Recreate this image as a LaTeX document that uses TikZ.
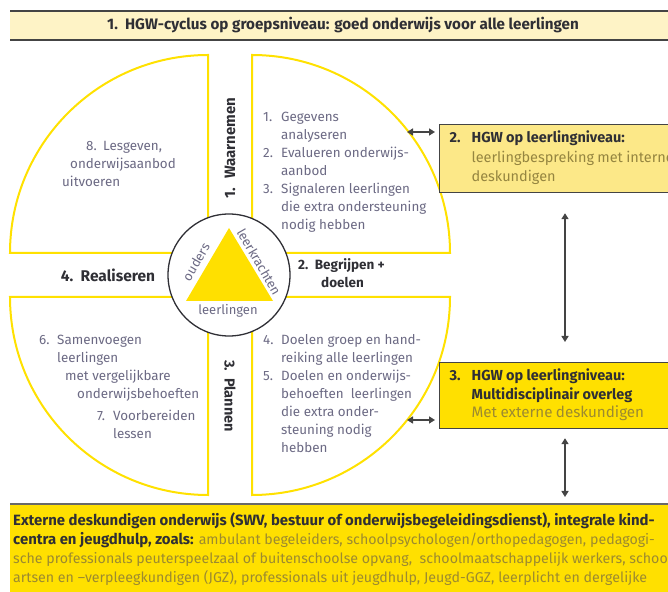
\documentclass[tikz,border=0pt]{standalone}
\usepackage{fontspec}
\setmainfont{Fira Sans}
\usetikzlibrary{arrows.meta}
\definecolor{qyellow}{HTML}{FFE100}
\definecolor{byellow}{HTML}{FFE000}
\definecolor{lyellow}{HTML}{FCE888}
\definecolor{cream}{HTML}{FEF3C6}
\definecolor{qgray}{HTML}{6C6A84}
\definecolor{dark}{HTML}{2F2F35}
\definecolor{rule}{HTML}{444444}
\definecolor{olive}{HTML}{958540}
\definecolor{olivey}{HTML}{9C8A30}
\begin{document}
\begin{tikzpicture}[x=1pt,y=1pt,
  quad/.style={draw=qyellow, line width=2pt, fill=white},
  qtext/.style={text=qgray, inner sep=0, anchor=base west, font=\fontsize{13.4}{18}\selectfont},
  lab/.style={text=dark, inner sep=0, font=\bfseries\fontsize{14.5}{17}\selectfont},
  hub/.style={text=qgray, inner sep=0, font=\fontsize{13}{15}\selectfont},
  sidebox/.style={draw=rule, line width=1.2pt, anchor=north west, text width=232pt, inner xsep=10pt, inner ysep=0pt, align=left},
  dbl/.style={{Triangle[length=6pt,width=7pt]}-{Triangle[length=6pt,width=7pt]}, draw=rule, line width=1.5pt}]
\useasboundingbox (0,0) rectangle (668,591);

% title bar
\node[fill=cream, minimum width=690, minimum height=29, anchor=north west, inner sep=0] (tb) at (10,580) {};
\draw[rule, line width=2.5pt] (tb.north west) -- (tb.north east);
\draw[rule, line width=2pt] (tb.south west) -- (tb.south east);
\node[lab, font=\bfseries\fontsize{15.2}{17}\selectfont] (title) at (343,566) {1.\ \ HGW-cyclus op groepsniveau: goed onderwijs voor alle leerlingen};

% quadrants
\draw[quad] (208,338) -- (10,338) arc[start angle=180,end angle=90,radius=198] -- cycle;
\draw[quad] (252,338) -- (252,536) arc[start angle=90,end angle=0,radius=198] -- cycle;
\draw[quad] (208,294) -- (10,294) arc[start angle=180,end angle=270,radius=198] -- cycle;
\draw[quad] (252,294) -- (252,96) arc[start angle=270,end angle=360,radius=198] -- cycle;

% hub
\node[circle, draw=dark, fill=white, line width=1.3pt, minimum size=122pt, inner sep=0] (hubc) at (229,316) {};
\fill[byellow] (229,363) -- (186,290) -- (273,290) -- cycle;
\node[hub, rotate=60] (ouders) at (196,329) {ouders};
\node[hub, rotate=-60] (leerk) at (259,329) {leerkrachten};
\node[hub] (leerl) at (228,280) {leerlingen};

% phase labels
\node[lab, rotate=90, font=\bfseries\fontsize{15}{17}\selectfont] (l1) at (230,443) {1.\hspace{9pt}Waarnemen};
\node[lab, rotate=-90] (l3) at (230,195) {3.\ \ Plannen};
\node[lab, font=\bfseries\fontsize{15.5}{17}\selectfont] (l4) at (108,316) {4.\ \ Realiseren};
\node[lab, anchor=base west, font=\bfseries\fontsize{13.5}{17}\selectfont] (l2a) at (298,321) {2.\ \ Begrijpen +};
\node[lab, anchor=base west, font=\bfseries\fontsize{13.5}{17}\selectfont] (l2b) at (321,303) {doelen};

% quadrant texts
\node[qtext] (qtr) at (263,469) {\begin{tabular}[t]{@{}l@{}l@{}}
\makebox[18pt][l]{1.} & Gegevens\\
 & analyseren\\
\makebox[18pt][l]{2.} & Evalueren onderwijs-\\
 & aanbod\\
\makebox[18pt][l]{3.} & Signaleren leerlingen\\
 & die extra ondersteuning\\
 & nodig hebben\end{tabular}};

\node[qtext] (qtl) at (62,440) {\begin{tabular}[t]{@{}l@{}}
\hspace{24pt}\makebox[17pt][l]{8.}Lesgeven,\\
\hspace{8pt}onderwijsaanbod\\
uitvoeren\end{tabular}};

\node[qtext] (qbl) at (39,246) {\begin{tabular}[t]{@{}l@{}}
\makebox[18pt][l]{6.}Samenvoegen\\
\hspace{18pt}leerlingen\\
\hspace{26pt}met vergelijkbare\\
\hspace{38pt}onderwijsbehoeften\\[4pt]
\hspace{58pt}\makebox[16pt][l]{7.}Voorbereiden\\
\hspace{74pt}lessen\end{tabular}};

\node[qtext] (qbr) at (263,246) {\begin{tabular}[t]{@{}l@{}l@{}}
\makebox[18pt][l]{4.} & Doelen groep en hand-\\
 & reiking alle leerlingen\\
\makebox[18pt][l]{5.} & Doelen en onderwijs-\\
 & behoeften\ \ leerlingen\\
 & die extra onder-\\
 & steuning nodig\\
 & hebben\end{tabular}};

% side boxes
\node[sidebox, fill=lyellow, minimum height=68pt] (b2) at (439,467) {\fontsize{14.5}{19.5}\selectfont\begin{tabular}{@{}l@{}l@{}}
\makebox[22pt][l]{\color{dark}\bfseries 2.} & {\color{dark}\bfseries HGW op leerlingniveau:}\\
 & {\color{olive}leerlingbespreking met interne}\\
 & {\color{olive}deskundigen}\end{tabular}};

\node[sidebox, fill=byellow, minimum height=66pt] (b3) at (439,229) {\fontsize{14.5}{18.5}\selectfont\begin{tabular}{@{}l@{}l@{}}
\makebox[22pt][l]{\color{dark}\bfseries 3.} & {\color{dark}\bfseries HGW op leerlingniveau:}\\
 & {\color{dark}\bfseries Multidisciplinair overleg}\\
 & {\color{olivey}\fontsize{15.2}{18.5}\selectfont Met externe deskundigen}\end{tabular}};

% bottom box
\node[fill=byellow, minimum width=690, minimum height=100, anchor=north west, inner sep=0] (bb) at (10,87) {};
\draw[rule!80, line width=2pt] (bb.north west) -- (bb.north east);
\node[inner sep=0, anchor=base west, font=\fontsize{14.2}{19}\selectfont] (bbt) at (13,66) {\begin{tabular}[t]{@{}l@{}}
{\color{dark}\bfseries\fontsize{14.9}{19}\selectfont Externe deskundigen onderwijs (SWV, bestuur of onderwijsbegeleidingsdienst), integrale kind-}\\
{\color{dark}\bfseries\fontsize{14.9}{19}\selectfont centra en jeugdhulp, zoals:} {\color{olivey}ambulant begeleiders, schoolpsychologen/orthopedagogen, pedagogi-}\\
{\color{olivey}sche professionals peuterspeelzaal of buitenschoolse opvang,\ \ schoolmaatschappelijk werkers, school-}\\
{\color{olivey}artsen en --verpleegkundigen (JGZ), professionals uit jeugdhulp, Jeugd-GGZ, leerplicht en dergelijke}\end{tabular}};

% connectors
\coordinate (q1) at (407,459);
\coordinate (q4) at (407,171);
\coordinate (vx) at (565,0);
\draw[dbl, shorten >=4pt] (q1) -- (q1 -| b2.west);
\draw[dbl, shorten >=4pt] (q4) -- (q4 -| b3.west);
\draw[dbl, shorten <=20pt, shorten >=20pt] (b2.south -| vx) -- (b3.north -| vx);
\draw[dbl, shorten <=9pt, shorten >=7pt] (b3.south -| vx) -- (bb.north -| vx);
\end{tikzpicture}
\end{document}
